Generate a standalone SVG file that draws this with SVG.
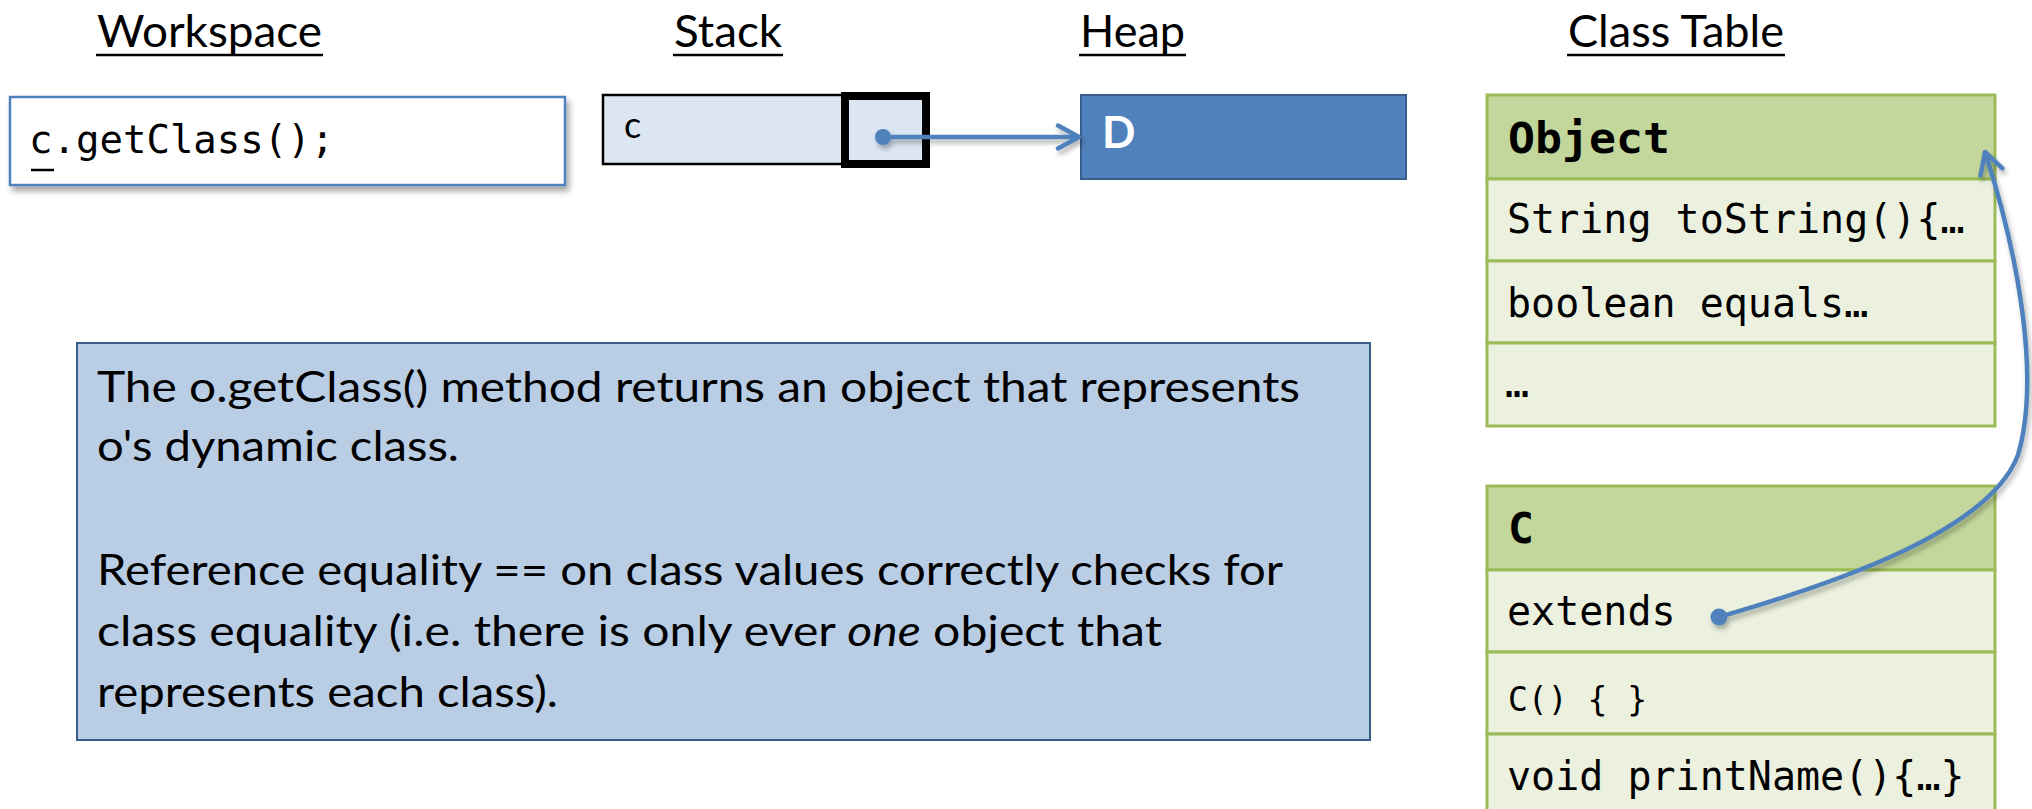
<svg xmlns="http://www.w3.org/2000/svg" width="2032" height="809" viewBox="0 0 2032 809">
<style>
.hdr{font-family:Lato,"Liberation Sans",sans-serif;font-size:44px;fill:#000}
.ul{stroke:#000;stroke-width:2.5}
.mono{font-family:"DejaVu Sans Mono","Liberation Mono",monospace;font-size:40px;fill:#000}
.monob{font-family:"DejaVu Sans Mono","Liberation Mono",monospace;font-size:43px;font-weight:bold;fill:#000}
.body{font-family:Lato,"Liberation Sans",sans-serif;font-size:42px;fill:#000}
.ct-head{fill:#c3d69b;stroke:#9bbb59;stroke-width:3}
.ct-row{fill:#ebf1de;stroke:#9bbb59;stroke-width:3}
.conn{fill:none;stroke:#4f81bd;stroke-width:4.5}
.dot{fill:#4f81bd}
</style>
<defs>
<filter id="sh" x="-10%" y="-20%" width="130%" height="160%">
<feDropShadow dx="3" dy="5" stdDeviation="3" flood-color="#000" flood-opacity="0.35"/>
</filter>
<filter id="lsh" x="-20%" y="-50%" width="140%" height="200%">
<feDropShadow dx="2" dy="4" stdDeviation="2.5" flood-color="#000" flood-opacity="0.3"/>
</filter>
<marker id="chev" markerUnits="userSpaceOnUse" markerWidth="28" markerHeight="28" viewBox="0 0 28 28" refX="25" refY="14" orient="auto">
<path d="M4,2.5 L25,14 L4,25.5" fill="none" stroke="#4f81bd" stroke-width="4.5" stroke-linecap="round" stroke-linejoin="round"/>
</marker>
</defs>
<rect width="2032" height="809" fill="#fff"/>

<g id="headers">
<text class="hdr" x="97" y="47" textLength="225" lengthAdjust="spacingAndGlyphs">Workspace</text>
<line class="ul" x1="96" y1="55" x2="323" y2="55"/>
<text class="hdr" x="674" y="47" textLength="108" lengthAdjust="spacingAndGlyphs">Stack</text>
<line class="ul" x1="673" y1="55" x2="783" y2="55"/>
<text class="hdr" x="1080" y="47" textLength="105" lengthAdjust="spacingAndGlyphs">Heap</text>
<line class="ul" x1="1079" y1="55" x2="1186" y2="55"/>
<text class="hdr" x="1568" y="47" textLength="216" lengthAdjust="spacingAndGlyphs">Class Table</text>
<line class="ul" x1="1567" y1="55" x2="1785" y2="55"/>
</g>

<g id="workspace">
<rect x="10" y="97" width="555" height="88" fill="#fff" stroke="#4f81bd" stroke-width="2.5" filter="url(#sh)"/>
<text class="mono" x="29" y="153" style="font-size:39px">c.getClass();</text>
<line x1="31" y1="170" x2="54" y2="170" stroke="#000" stroke-width="2.5"/>
</g>

<g id="stack">
<rect x="603" y="95" width="325" height="69" fill="#dce6f2" stroke="#000" stroke-width="2.5"/>
<rect x="845" y="96" width="81" height="68" fill="#dce6f2" stroke="#000" stroke-width="8"/>
<text class="body" x="624" y="138" style="font-size:36px">c</text>
</g>

<g id="heap">
<rect x="1081" y="95" width="325" height="84" fill="#4f81bd" stroke="#385d8a" stroke-width="2"/>
<text x="1102" y="148" font-family="Lato,'Liberation Sans',sans-serif" font-size="44" font-weight="bold" fill="#fff">D</text>
</g>

<g id="class-object">
<rect class="ct-head" x="1487" y="95" width="508" height="84"/>
<rect class="ct-row" x="1487" y="179" width="508" height="82"/>
<rect class="ct-row" x="1487" y="261" width="508" height="82"/>
<rect class="ct-row" x="1487" y="343" width="508" height="83"/>
<text class="monob" x="1508" y="153" textLength="162" lengthAdjust="spacingAndGlyphs">Object</text>
<text class="mono" x="1507" y="233">String toString(){…</text>
<text class="mono" x="1507" y="317">boolean equals…</text>
<text class="mono" x="1505" y="397">…</text>
</g>

<g id="class-c">
<rect class="ct-head" x="1487" y="486" width="508" height="84"/>
<rect class="ct-row" x="1487" y="570" width="508" height="82"/>
<rect class="ct-row" x="1487" y="652" width="508" height="82"/>
<rect class="ct-row" x="1487" y="734" width="508" height="84"/>
<text class="monob" x="1508" y="543">C</text>
<text class="mono" x="1507" y="625">extends</text>
<text class="mono" x="1508" y="711" style="font-size:33px">C() { }</text>
<text class="mono" x="1507" y="790">void printName(){…}</text>
</g>

<g id="note">
<rect x="77" y="343" width="1293" height="397" fill="#b9cde5" stroke="#385d8a" stroke-width="2"/>
<text class="body" x="97" y="402" textLength="1203" lengthAdjust="spacingAndGlyphs">The o.getClass() method returns an object that represents</text>
<text class="body" x="97" y="461" textLength="362" lengthAdjust="spacingAndGlyphs">o's dynamic class.</text>
<text class="body" x="97" y="585" textLength="1186" lengthAdjust="spacingAndGlyphs">Reference equality == on class values correctly checks for</text>
<text class="body" x="97" y="646" textLength="1065" lengthAdjust="spacingAndGlyphs">class equality (i.e. there is only ever <tspan font-style="italic">one</tspan> object that</text>
<text class="body" x="97" y="707" textLength="461" lengthAdjust="spacingAndGlyphs">represents each class).</text>
</g>

<g id="connectors" filter="url(#lsh)">
<circle class="dot" cx="883" cy="137" r="8"/>
<line class="conn" x1="883" y1="137" x2="1079" y2="137" marker-end="url(#chev)"/>
<circle class="dot" cx="1719" cy="617" r="8.5"/>
<path class="conn" d="M1719,617 C1840,582 1990,530 2018,455 C2040,380 2020,260 1985,152" marker-end="url(#chev)"/>
</g>
</svg>
